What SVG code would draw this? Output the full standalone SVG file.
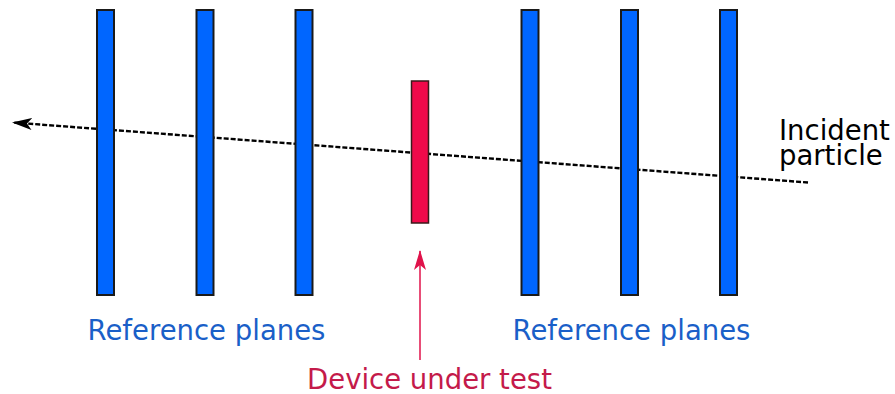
<svg xmlns="http://www.w3.org/2000/svg" width="895" height="394" viewBox="0 0 895 394">
<defs>
<style>
.plane{fill:#0066ff;stroke:#1a1a1a;stroke-width:2}
.dut{fill:#f00a4a;stroke:#3a1a1a;stroke-width:1.5}
.lbl{font-family:"DejaVu Sans",sans-serif;font-size:27.5px}
</style>
<marker id="ah" viewBox="0 0 20 12" refX="19" refY="6" markerWidth="20" markerHeight="12" markerUnits="userSpaceOnUse" orient="auto">
<path d="M0,0 L20,6 L0,12 L5,6 Z" fill="#000"/>
</marker>
<marker id="ahr" viewBox="0 0 20 12" refX="19" refY="6" markerWidth="20" markerHeight="12" markerUnits="userSpaceOnUse" orient="auto">
<path d="M0,0 L20,6 L0,12 L5,6 Z" fill="#e0124a"/>
</marker>
</defs>
<g id="connectors">
<line x1="808" y1="182.5" x2="13" y2="122.5" stroke="#000" stroke-width="2.4" stroke-dasharray="5,2" marker-end="url(#ah)"/>
<line x1="420" y1="360" x2="420" y2="251" stroke="#e0124a" stroke-width="1.5" marker-end="url(#ahr)"/>
</g>
<g id="plane1"><rect class="plane" x="97" y="10" width="17" height="285"/></g>
<g id="plane2"><rect class="plane" x="196.5" y="10" width="17" height="285"/></g>
<g id="plane3"><rect class="plane" x="295.5" y="10" width="17" height="285"/></g>
<g id="plane4"><rect class="plane" x="521.5" y="10" width="17" height="285"/></g>
<g id="plane5"><rect class="plane" x="621" y="10" width="17" height="285"/></g>
<g id="plane6"><rect class="plane" x="720" y="10" width="17" height="285"/></g>
<g id="dut"><rect class="dut" x="411.5" y="81" width="17" height="142"/></g>
<g id="labels">
<text class="lbl" x="206.5" y="340" text-anchor="middle" fill="#1a5fc8">Reference planes</text>
<text class="lbl" x="631.5" y="340" text-anchor="middle" fill="#1a5fc8">Reference planes</text>
<text class="lbl" x="429.5" y="389" text-anchor="middle" fill="#c41a4a">Device under test</text>
<text class="lbl" x="779" y="140" fill="#000">Incident</text>
<text class="lbl" x="779" y="165" fill="#000">particle</text>
</g>
</svg>
